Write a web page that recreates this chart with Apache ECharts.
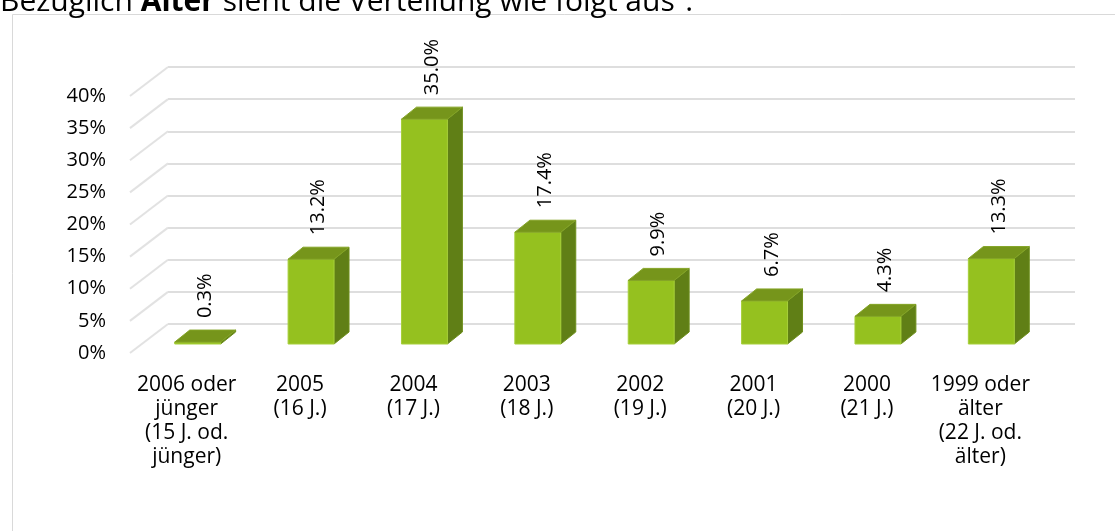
<!DOCTYPE html>
<html>
<head>
<meta charset="utf-8">
<script src="https://cdn.jsdelivr.net/npm/echarts@6/dist/echarts.min.js"></script>
<style>
html,body{margin:0;padding:0;background:#fff;}
#chart{width:1115px;height:531px;}
</style>
</head>
<body>
<div id="chart"></div>
<script>
const categories = [
  '2006 oder\njünger\n(15 J. od.\njünger)',
  '2005\n(16 J.)',
  '2004\n(17 J.)',
  '2003\n(18 J.)',
  '2002\n(19 J.)',
  '2001\n(20 J.)',
  '2000\n(21 J.)',
  '1999 oder\nälter\n(22 J. od.\nälter)'
];
const values = [0.3, 13.2, 35.0, 17.4, 9.9, 6.7, 4.3, 13.3];
const yTicks = [0, 5, 10, 15, 20, 25, 30, 35, 40];
const yMax = 40;
const yStep = 5;

const FONT = '"Open Sans", "DejaVu Sans", sans-serif';
const DX = 38, DY = 29;       // wall depth offset (front vs back)
const BDX = 15, BDY = 12;     // bar depth offset

const chart = echarts.init(document.getElementById('chart'), null, {renderer: 'canvas'});

const option = {
  animation: false,
  backgroundColor: '#fff',
  graphic: [
    {type: 'rect', left: 10, top: 12, shape: {width: 1200, height: 600},
     style: {fill: 'none', stroke: '#d9d9d9', lineWidth: 1}, silent: true},
    {type: 'text', x: 0, y: 2,
     style: {
       text: '{n|Bezüglich }{b|Alter}{n| sieht die Verteilung wie folgt aus“:}',
       verticalAlign: 'middle', align: 'left',
       rich: {
         n: {fontFamily: FONT, fontSize: 30, fill: '#000', color: '#000'},
         b: {fontFamily: FONT, fontSize: 30, fontWeight: 'bold', fill: '#000', color: '#000'}
       }
     }}
  ],
  grid: [
    {left: 168, right: 40, top: 67, bottom: 207},   // back wall
    {left: 130, right: 78, top: 96, bottom: 178},   // front edge (labels)
    {left: 141, right: 67, top: 87, bottom: 187}    // bars (front face)
  ],
  xAxis: [
    {type: 'category', gridIndex: 0, data: categories, show: false},
    {type: 'category', gridIndex: 1, data: categories,
     axisLine: {show: false}, axisTick: {show: false},
     axisLabel: {interval: 0, margin: 20, fontFamily: FONT, fontSize: 21, lineHeight: 24, color: '#000'}},
    {type: 'category', gridIndex: 2, data: categories, show: false}
  ],
  yAxis: [
    {type: 'value', gridIndex: 0, min: 0, max: yMax, interval: yStep,
     axisLine: {show: false}, axisTick: {show: false}, axisLabel: {show: false},
     splitLine: {lineStyle: {color: '#dedede', width: 2}}},
    {type: 'value', gridIndex: 1, min: 0, max: yMax, interval: yStep,
     axisLine: {show: false}, axisTick: {show: false}, splitLine: {show: false},
     axisLabel: {margin: 24, fontFamily: FONT, fontSize: 20, color: '#000',
       formatter: v => v + '%'}},
    {type: 'value', gridIndex: 2, min: 0, max: yMax, interval: yStep, show: false}
  ],
  series: [
    {
      type: 'custom', xAxisIndex: 0, yAxisIndex: 0, z: 1,
      data: yTicks.map(v => [0, v]),
      renderItem: function (params, api) {
        const y = api.coord([0, api.value(1)])[1];
        const x = params.coordSys.x;
        return {type: 'line', shape: {x1: x - DX, y1: y + DY, x2: x, y2: y},
                style: {stroke: '#e2e2e2', lineWidth: 2}};
      }
    },
    {
      type: 'custom', xAxisIndex: 2, yAxisIndex: 2, z: 5,
      data: values.map((v, i) => [i, v]),
      renderItem: function (params, api) {
        const i = api.value(0), v = api.value(1);
        const base = api.coord([i, 0]);
        const top = api.coord([i, v]);
        const band = api.size([1, 0])[0];
        const w = band * 0.405;
        const x0 = base[0] - w / 2, x1 = base[0] + w / 2;
        const yb = base[1], yt = top[1];
        return {
          type: 'group',
          children: [
            {type: 'polygon', shape: {points: [[x1, yt], [x1 + BDX, yt - BDY], [x1 + BDX, yb - BDY], [x1, yb]]},
             style: {fill: '#607f16', stroke: '#6e8f1c', lineWidth: 1}},
            {type: 'rect', shape: {x: x0, y: yt, width: w, height: Math.max(yb - yt, 0.5)},
             style: {fill: '#95c11f', stroke: '#a6cf3a', lineWidth: 1}},
            {type: 'polygon', shape: {points: [[x0, yt], [x0 + BDX, yt - BDY], [x1 + BDX, yt - BDY], [x1, yt]]},
             style: {fill: '#76951b', stroke: '#84a426', lineWidth: 1}},
            {type: 'text', x: base[0] + BDX / 2, y: yt - BDY - 12, rotation: Math.PI / 2,
             style: {text: v.toFixed(1) + '%', x: 0, y: 0, align: 'left', verticalAlign: 'middle',
                     fontFamily: FONT, fontSize: 20, fill: '#000'}}
          ]
        };
      }
    }
  ]
};
chart.setOption(option);
</script>
</body>
</html>
